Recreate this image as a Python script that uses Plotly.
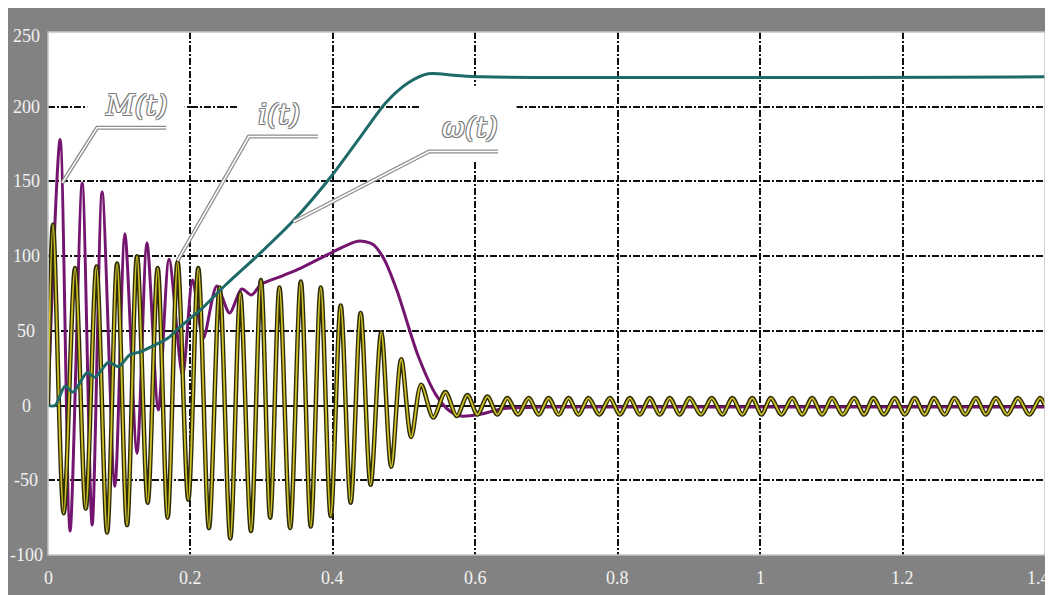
import plotly.graph_objects as go

# ---------------- data ----------------
# i(t): current, extremes of the oscillation
i_t = [0.0, 0.007, 0.022, 0.038, 0.053, 0.068, 0.083, 0.097, 0.111, 0.125, 0.140,
       0.154, 0.168, 0.182, 0.197, 0.211, 0.226, 0.241, 0.256, 0.270, 0.285,
       0.299, 0.312, 0.325, 0.340, 0.355, 0.369, 0.383, 0.397, 0.411, 0.425,
       0.439, 0.453, 0.468, 0.482, 0.496, 0.510, 0.524, 0.541, 0.558, 0.574,
       0.589, 0.603, 0.617, 0.631, 0.645, 0.660, 0.675, 0.689, 0.703, 0.717,
       0.731, 0.745, 0.759, 0.774, 0.789, 0.803, 0.817, 0.831, 0.845, 0.859,
       0.873, 0.887, 0.901, 0.917, 0.932, 0.947, 0.961, 0.975, 0.989, 1.002,
       1.015, 1.030, 1.045, 1.059, 1.073, 1.087, 1.101, 1.116, 1.132, 1.146,
       1.159, 1.174, 1.189, 1.203, 1.217, 1.231, 1.244, 1.259, 1.273, 1.288,
       1.303, 1.317, 1.331, 1.347, 1.362, 1.378, 1.393, 1.400]
i_val = [0, 121, -72, 92, -69, 93, -85, 95, -80, 100, -65,
         92, -75, 96, -63, 92, -82, 79, -89, 75, -84,
         84, -75, 79, -82, 83, -81, 79, -74, 67, -65,
         62, -53, 49, -41, 31, -21, 14, -8, 9, -7,
         7, -6, 6, -6, 5, -6, 5, -6, 5, -6,
         5, -6, 5, -6, 5, -6, 5, -6, 5, -6,
         5, -6, 5, -6, 5, -6, 5, -6, 5, -6,
         5, -6, 5, -6, 5, -6, 5, -6, 5, -6,
         5, -6, 5, -6, 5, -6, 5, -6, 5, -6,
         5, -6, 5, -6, 5, -6, 5, 0]

# M(t): electromagnetic torque
m_t = [0.0, 0.017, 0.031, 0.048, 0.062, 0.076, 0.094, 0.108, 0.125, 0.139,
       0.155, 0.170, 0.189, 0.203, 0.218, 0.237, 0.255, 0.272, 0.286, 0.299,
       0.330, 0.355, 0.401, 0.435, 0.456, 0.472, 0.490, 0.520,
       0.545, 0.565, 0.580, 0.605, 0.640, 0.700, 1.400]
m_val = [0, 178, -84, 149, -80, 143, -54, 115, -32, 109,
         -3, 98, 20, 84, 45, 80, 62, 78, 74, 81,
         87, 92, 103, 110, 108, 98, 77, 33,
         7, -4, -7, -6, -2, -1, -1]

# omega(t): angular speed
w_t = [0.0, 0.010, 0.024, 0.035, 0.055, 0.066, 0.085, 0.099, 0.115, 0.130,
       0.148, 0.168, 0.186, 0.214, 0.250, 0.298, 0.345, 0.397, 0.439, 0.475,
       0.506, 0.534, 0.570, 0.610, 1.400]
w_val = [0, 0, 13, 9, 22, 19, 29, 26, 34, 36,
         40, 45, 53, 64, 81, 102, 124, 153, 180, 203,
         216, 222, 221, 220, 220]

x_ticks = [0, 0.2, 0.4, 0.6, 0.8, 1, 1.2, 1.4]
x_tick_text = ["0", "0.2", "0.4", "0.6", "0.8", "1", "1.2", "1.4"]
y_ticks = [-100, -50, 0, 50, 100, 150, 200, 250]
y_tick_text = ["-100", "-50", "0", "50", "100", "150", "200", "250"]

# labels: text, text position, underline (x0, x1, y), leader end (x, y)
labels = ["M(t)", "i(t)", "ω(t)"]
label_pos = [(0.124, 201), (0.325, 195), (0.592, 186)]
label_under = [(0.069, 0.166, 186), (0.282, 0.379, 180), (0.535, 0.632, 170)]
label_end = [(0.020, 149), (0.182, 97), (0.345, 123)]
label_box = [(0.055, 0.192, 188, 216), (0.266, 0.398, 176, 214), (0.521, 0.658, 164, 214)]

# ---------------- figure ----------------
# The page body keeps its default 8px white margin, which gives the white
# strip on the top and left of the grey frame.
GRAY = "#828282"
TICK_COLOR = "#f2f2f2"
W, H = 1045, 587
L, R, T, B = 40, 8, 24, 40
PW = W - L - R
fig = go.Figure()

fig.add_trace(go.Scatter(x=m_t, y=m_val, mode="lines",
                         line=dict(color="#74166f", width=3, shape="spline", smoothing=0.8),
                         hoverinfo="skip"))
fig.add_trace(go.Scatter(x=i_t, y=i_val, mode="lines",
                         line=dict(color="#2e2c08", width=4.5, shape="spline", smoothing=0.9),
                         hoverinfo="skip"))
fig.add_trace(go.Scatter(x=i_t, y=i_val, mode="lines",
                         line=dict(color="#cfc22a", width=1.8, shape="spline", smoothing=0.9),
                         hoverinfo="skip"))
fig.add_trace(go.Scatter(x=w_t, y=w_val, mode="lines",
                         line=dict(color="#1d6a68", width=3, shape="spline", smoothing=0.8),
                         hoverinfo="skip"))

shapes = []
# plot-area border
shapes.append(dict(type="rect", xref="paper", yref="paper", x0=0, x1=1, y0=0, y1=1,
                   line=dict(color="#c4c4c4", width=1.5), layer="above"))
# white boxes behind labels (interrupt the grid)
for (bx0, bx1, by0, by1) in label_box:
    shapes.append(dict(type="rect", x0=bx0, x1=bx1, y0=by0, y1=by1, xref="x", yref="y",
                       fillcolor="white", line=dict(width=0), layer="between"))
# leader lines (double grey line)
for (ux0, ux1, uy), (ex, ey) in zip(label_under, label_end):
    path = f"M {ex},{ey} L {ux0},{uy} L {ux1},{uy}"
    shapes.append(dict(type="path", path=path, xref="x", yref="y",
                       line=dict(color="#8c8c8c", width=4), layer="above"))
    shapes.append(dict(type="path", path=path, xref="x", yref="y",
                       line=dict(color="#ffffff", width=1.5), layer="above"))

annotations = []
for txt, (tx, ty) in zip(labels, label_pos):
    annotations.append(dict(x=tx, y=ty, xref="x", yref="y", text=txt, showarrow=False,
                            font=dict(family="DejaVu Serif", size=28, color="#ffffff",
                                      style="italic",
                                      shadow="-1px -1px 0 #7a7a7a, 1px -1px 0 #7a7a7a, "
                                             "-1px 1px 0 #7a7a7a, 1px 1px 0 #7a7a7a"),
                            xanchor="center", yanchor="middle"))

# y tick labels: centred in the left grey band (as in the reference)
tick_font = dict(family="Liberation Serif", size=18, color=TICK_COLOR)
y_label_x = (18 - L) / PW
for val, txt in zip(y_ticks, y_tick_text):
    annotations.append(dict(x=y_label_x, y=val, xref="paper", yref="y", text=txt,
                            showarrow=False, font=tick_font, xanchor="center",
                            yanchor="middle", yshift=-4 if val == y_ticks[-1] else 0))
# x tick labels
for val, txt in zip(x_ticks, x_tick_text):
    last = val == x_ticks[-1]
    annotations.append(dict(x=val, y=0, xref="x", yref="paper", text=txt,
                            showarrow=False, font=tick_font,
                            xanchor="right" if last else "center", xshift=7 if last else 0,
                            yanchor="middle", yshift=-23))

fig.update_layout(
    width=W, height=H,
    margin=dict(l=L, r=R, t=T, b=B, autoexpand=False),
    paper_bgcolor=GRAY, plot_bgcolor="white",
    showlegend=False, hovermode=False,
    shapes=shapes, annotations=annotations,
    font=dict(family="Liberation Serif", size=18, color=TICK_COLOR),
)
fig.update_xaxes(range=[0, 1.4], tickvals=x_ticks, showticklabels=False, automargin=False,
                 showgrid=True, gridcolor="#111111", gridwidth=2, griddash="7px,2px,2px,2px",
                 zeroline=False, showline=False, ticks="")
fig.update_yaxes(range=[-100, 250], tickvals=y_ticks, showticklabels=False, automargin=False,
                 showgrid=True, gridcolor="#111111", gridwidth=2, griddash="7px,2px,2px,2px",
                 zeroline=True, zerolinecolor="#111111", zerolinewidth=2,
                 showline=False, ticks="")

fig.write_html("out.html", config={"displayModeBar": False})
